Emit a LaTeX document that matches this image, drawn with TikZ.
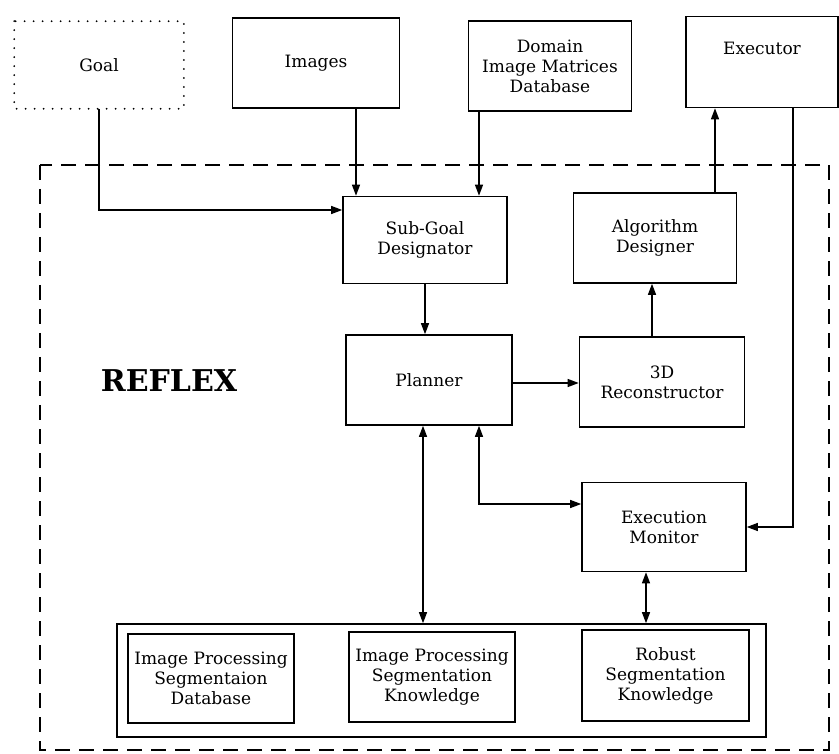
\documentclass[tikz,border=0pt]{standalone}
\usepackage{fontspec}
\setmainfont{DejaVu Serif}
\usetikzlibrary{arrows.meta}

\begin{document}
\begin{tikzpicture}[x=1pt,y=-1pt,
  modbox/.style={
    rectangle, draw=black, line width=1.6pt,
    minimum width=165pt, minimum height=89pt,
    font=\fontsize{17}{20}\selectfont,
    align=center, inner sep=2pt
  },
  conn/.style={-{Triangle[length=11pt,width=8pt]}, line width=1.3pt},
  biconn/.style={{Triangle[length=11pt,width=8pt]}-{Triangle[length=11pt,width=8pt]}, line width=1.3pt}
]
\useasboundingbox (0,0) rectangle (839,754);

% REFLEX boundary
\draw[line width=2.2pt, dash pattern=on 15pt off 9pt] (40,165) rectangle (829,750);
\node[font=\fontsize{30}{32}\selectfont\bfseries] (reflex) at (169,381) {REFLEX};

% outside the system
\node[modbox, draw=none, minimum width=168pt, minimum height=86pt] (goal) at (99,65) {Goal};
\draw[line width=2pt, line cap=round, dash pattern=on 0pt off 9pt] (goal.north west) rectangle (goal.south east);
\node[modbox, minimum width=167pt, minimum height=90pt] (images) at (316,63) {Images};
\node[modbox, minimum width=163pt, minimum height=90pt] (domain) at (550,66) {Domain\\Image Matrices\\Database};
\node[modbox, minimum width=152pt, minimum height=91pt, text depth=28pt] (executor) at (762,62) {Executor};

% inside the system
\node[modbox, minimum width=164pt, minimum height=87pt] (subgoal) at (425,240) {Sub-Goal\\Designator};
\node[modbox, minimum width=163pt, minimum height=90pt] (algo) at (655,238) {Algorithm\\Designer};
\node[modbox, minimum width=166pt, minimum height=90pt] (planner) at (429,380) {Planner};
\node[modbox, minimum width=165pt, minimum height=90pt] (recon) at (662,382) {3D\\Reconstructor};
\node[modbox, minimum width=164pt, minimum height=89pt] (monitor) at (664,527) {Execution\\Monitor};

% knowledge store
\node[modbox, minimum width=649pt, minimum height=113pt] (store) at (441.5,680.5) {};
\node[modbox, minimum width=166pt, minimum height=89pt] (ipsd) at (211,678.5) {Image Processing\\Segmentaion\\Database};
\node[modbox, minimum width=166pt, minimum height=90pt] (ipsk) at (432,677) {Image Processing\\Segmentation\\Knowledge};
\node[modbox, minimum width=167pt, minimum height=91pt] (rsk) at (665.5,675.5) {Robust\\Segmentation\\Knowledge};

\draw[conn] (goal.south) |- ([yshift=30pt]subgoal.west);
\draw[conn] ([xshift=40pt]images.south) -- ([xshift=40pt]images.south |- subgoal.north);
\draw[conn] ([xshift=-71pt]domain.south) -- ([xshift=-71pt]domain.south |- subgoal.north);
\draw[conn] ([xshift=60pt]algo.north) -- ([xshift=60pt]algo.north |- executor.south);
\draw[conn] ([xshift=31pt]executor.south) |- (monitor.east);

\draw[conn] (subgoal.south) -- (subgoal.south |- planner.north);
\draw[conn] ([yshift=-3pt]planner.east) -- ([yshift=-3pt]planner.east -| recon.west);
\draw[conn] ([xshift=-10pt]recon.north) -- ([xshift=-10pt]recon.north |- algo.south);

\draw[biconn] ([xshift=-6pt]planner.south) -- ([xshift=-6pt]planner.south |- store.north);
\draw[biconn] ([xshift=50pt]planner.south) |- ([yshift=23pt]monitor.west);
\draw[biconn] ([xshift=-18pt]monitor.south) -- ([xshift=-18pt]monitor.south |- store.north);
\end{tikzpicture}
\end{document}
